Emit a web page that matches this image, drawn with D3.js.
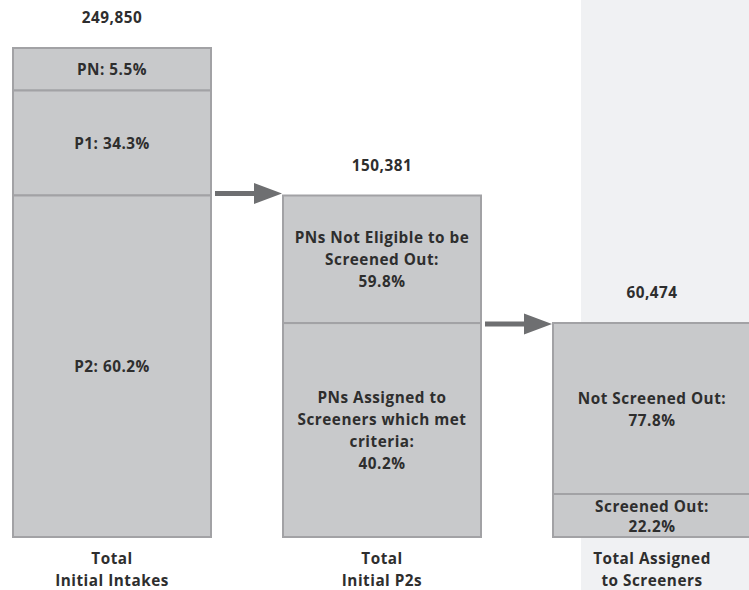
<!DOCTYPE html>
<html>
<head>
<meta charset="utf-8">
<script src="https://cdn.jsdelivr.net/npm/d3@7"></script>
<style>
  html, body { margin: 0; padding: 0; background: #ffffff; }
  svg { display: block; }
  text { font-family: "Open Sans", "Noto Sans", sans-serif; font-weight: 700; fill: #2e2e2e; letter-spacing: 0.5px; }
</style>
</head>
<body>
<svg id="chart" width="749" height="590"></svg>
<script>
// ---------- data ----------
const categories = ["Total\nInitial Intakes", "Total\nInitial P2s", "Total Assigned\nto Screeners"];
const totals = [249850, 150381, 60474];

// segments of each bar, listed top to bottom
const intakeLabels = ["PN:", "P1:", "P2:"];
const intakePct = [5.5, 34.3, 60.2];

const p2Labels = ["PNs Not Eligible to be\nScreened Out:", "PNs Assigned to\nScreeners which met\ncriteria:"];
const p2Pct = [59.8, 40.2];

const screenerLabels = ["Not Screened Out:", "Screened Out:"];
const screenerPct = [77.8, 22.2];

// ---------- build ----------
const W = 749, H = 590;
const FS = 15.3;
const svg = d3.select("#chart");

const segLabels = [intakeLabels, p2Labels, screenerLabels];
const segPct = [intakePct, p2Pct, screenerPct];
const inlineLabel = [true, false, false];

// stacked counts (from bottom) per bar
const bars = categories.map((c, i) => {
  const labels = segLabels[i], pct = segPct[i];
  let acc = 0;
  const segs = [];
  for (let k = labels.length - 1; k >= 0; k--) {
    const v = totals[i] * pct[k] / 100;
    segs.push({label: labels[k], pct: pct[k], y0: acc, y1: acc + v, inline: inlineLabel[i]});
    acc += v;
  }
  return {cat: c, total: totals[i], segs: segs.reverse()};
});

// schematic (piecewise) vertical scale: the flow diagram stretches each stage
const breaks = [0,
  bars[2].segs[1].y1,           // screened out
  totals[2],                    // assigned to screeners
  totals[1],                    // initial P2s
  bars[0].segs[1].y1,           // P2 + P1
  totals[0]];                   // all intakes
const y = d3.scaleLinear().domain(breaks).range([537, 494, 323, 195.5, 90.5, 48]);

const x = d3.scaleBand().domain(categories).range([13, 751]).paddingInner(72 / 270).paddingOuter(0);

// light panel behind the last stage
svg.append("rect")
  .attr("x", x(categories[2]) + 28).attr("y", 0)
  .attr("width", W - (x(categories[2]) + 28)).attr("height", H)
  .attr("fill", "#f0f1f3");

// bars
const g = svg.selectAll("g.bar").data(bars).join("g").attr("class", "bar");

g.selectAll("rect").data(d => d.segs.map(s => ({...s, cat: d.cat}))).join("rect")
  .attr("x", s => x(s.cat))
  .attr("y", s => y(s.y1))
  .attr("width", x.bandwidth())
  .attr("height", s => y(s.y0) - y(s.y1))
  .attr("fill", "#c8c9cb")
  .attr("stroke", "#a2a2a5")
  .attr("stroke-width", 2);

// segment labels
g.each(function(d) {
  const gg = d3.select(this);
  d.segs.forEach(s => {
    const top = y(s.y1), bot = y(s.y0);
    const h = bot - top;
    let lines = s.label.split("\n");
    if (s.inline) lines[lines.length - 1] += " " + s.pct.toFixed(1) + "%";
    else lines.push(s.pct.toFixed(1) + "%");
    const lh = Math.min(22, (h - 3) / lines.length);
    const cy = (top + bot) / 2;
    const t = gg.append("text")
      .attr("text-anchor", "middle")
      .attr("font-size", FS);
    lines.forEach((ln, j) => {
      t.append("tspan")
        .attr("x", x(d.cat) + x.bandwidth() / 2)
        .attr("y", cy + (j - (lines.length - 1) / 2) * lh + 6)
        .text(ln);
    });
  });
  // total above
  gg.append("text")
    .attr("x", x(d.cat) + x.bandwidth() / 2)
    .attr("y", y(d.total) - 25)
    .attr("text-anchor", "middle")
    .attr("font-size", FS)
    .text(d3.format(",")(d.total));
  // category label below
  const ct = gg.append("text").attr("text-anchor", "middle").attr("font-size", FS);
  d.cat.split("\n").forEach((ln, j) => {
    ct.append("tspan")
      .attr("x", x(d.cat) + x.bandwidth() / 2)
      .attr("y", y(0) + 27 + j * 22)
      .text(ln);
  });
});

// arrows between stages
const arrowColor = "#6e6f71";
[[0, 1, -2], [1, 2, 1]].forEach(([a, b, dy]) => {
  const x0 = x(categories[a]) + x.bandwidth() + 4;
  const x1 = x(categories[b]) - 1;
  const ay = y(totals[b]) + dy;
  const headL = 28, headH = 10.5, shaft = 2.6;
  const path = d3.path();
  path.moveTo(x0, ay - shaft);
  path.lineTo(x1 - headL, ay - shaft);
  path.lineTo(x1 - headL, ay - headH);
  path.lineTo(x1, ay);
  path.lineTo(x1 - headL, ay + headH);
  path.lineTo(x1 - headL, ay + shaft);
  path.lineTo(x0, ay + shaft);
  path.closePath();
  svg.append("path").attr("d", path.toString()).attr("fill", arrowColor);
});
</script>
</body>
</html>
